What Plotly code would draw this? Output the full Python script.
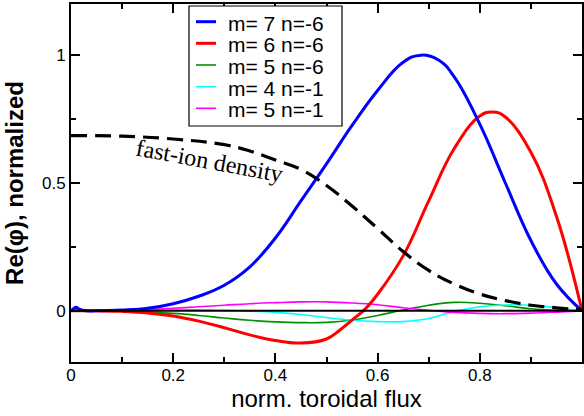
import plotly.graph_objects as go

# ---------------- data ----------------
blue_x = [0, 0.005, 0.01, 0.015, 0.025, 0.05, 0.1, 0.15, 0.2, 0.25, 0.3, 0.35, 0.4, 0.45,
          0.5, 0.55, 0.6, 0.65, 0.685, 0.72, 0.75, 0.8, 0.85, 0.9, 0.95, 1.0]
blue_y = [0, 0.008, 0.014, 0.008, 0.001, 0.0, 0.003, 0.01, 0.028, 0.057, 0.1, 0.172, 0.285, 0.43,
          0.575, 0.725, 0.862, 0.972, 1.0, 0.98, 0.915, 0.73, 0.5, 0.275, 0.105, 0.0]

red_x = [0, 0.05, 0.1, 0.15, 0.2, 0.25, 0.3, 0.35, 0.4, 0.45, 0.5, 0.525, 0.55, 0.575, 0.6,
         0.65, 0.7, 0.75, 0.8, 0.825, 0.85, 0.9, 0.95, 1.0]
red_y = [0, 0, -0.002, -0.008, -0.02, -0.04, -0.066, -0.094, -0.116, -0.126, -0.11, -0.077,
         -0.036, 0.006, 0.065, 0.215, 0.43, 0.635, 0.762, 0.778, 0.758, 0.62, 0.37, 0.0]

small_x = [0, 0.05, 0.1, 0.15, 0.2, 0.25, 0.3, 0.35, 0.4, 0.45, 0.5, 0.55, 0.6, 0.65, 0.7,
           0.75, 0.8, 0.85, 0.9, 0.95, 1.0]
green_y = [0, 0, -0.002, -0.005, -0.01, -0.018, -0.028, -0.037, -0.043, -0.046, -0.045, -0.036,
           -0.018, 0.003, 0.022, 0.033, 0.03, 0.02, 0.008, 0.002, 0]
cyan_y = [0, 0.001, 0.002, 0.003, 0.004, 0.004, 0.002, -0.001, -0.006, -0.014, -0.026, -0.037,
          -0.042, -0.042, -0.03, -0.002, 0.016, 0.023, 0.022, 0.012, 0]
magenta_y = [0, 0.001, 0.003, 0.006, 0.01, 0.016, 0.022, 0.028, 0.032, 0.035, 0.035, 0.031,
             0.024, 0.012, 0.002, -0.006, -0.01, -0.011, -0.009, -0.005, 0]

density_x = [0, 0.1, 0.2, 0.3, 0.35, 0.4, 0.45, 0.5, 0.55, 0.6, 0.65, 0.7, 0.75, 0.8, 0.85,
             0.9, 0.95, 1.0]
density_y = [0.685, 0.683, 0.672, 0.65, 0.625, 0.59, 0.553, 0.49, 0.41, 0.322, 0.232, 0.158,
             0.105, 0.066, 0.04, 0.022, 0.012, 0.004]

zero_x = [0, 1]
zero_y = [0, 0]

series_names = ["m= 7 n=-6", "m= 6 n=-6", "m= 5 n=-6", "m= 4 n=-1", "m= 5 n=-1"]
series_colors = ["#0000ff", "#ff0000", "#009000", "#00ffff", "#ff00ff"]
series_widths = [3, 3, 1.6, 1.6, 1.6]
series_x = [blue_x, red_x, small_x, small_x, small_x]
series_y = [blue_y, red_y, green_y, cyan_y, magenta_y]

x_ticks = [0, 0.2, 0.4, 0.6, 0.8, 1.0]
x_ticklabels = ["0", "0.2", "0.4", "0.6", "0.8", "1"]
y_ticks = [0, 0.5, 1.0]
y_ticklabels = ["0", "0.5", "1"]

# ---------------- layout geometry (pixels) ----------------
W, H = 584, 416
L, R, T, B = 71, 582, 4, 362


def px(xp):
    return (xp - L) / (R - L)


def py(yp):
    return (B - yp) / (B - T)


fig = go.Figure()

draw_order = [2, 3, 4, 1, 0]
for i in draw_order:
    fig.add_trace(go.Scatter(x=series_x[i], y=series_y[i], mode="lines", name=series_names[i],
                             line=dict(color=series_colors[i], width=series_widths[i],
                                       shape="spline", smoothing=1.2),
                             showlegend=False, hoverinfo="skip"))

fig.add_trace(go.Scatter(x=density_x, y=density_y, mode="lines",
                         line=dict(color="black", width=3.2, dash="16px,8px", shape="spline",
                                   smoothing=1.2),
                         showlegend=False, hoverinfo="skip"))
fig.add_trace(go.Scatter(x=zero_x, y=zero_y, mode="lines",
                         line=dict(color="black", width=2), showlegend=False, hoverinfo="skip"))

shapes = []
annotations = []

# manual legend box
shapes.append(dict(type="rect", xref="paper", yref="paper", x0=px(189), x1=px(342),
                   y0=py(126), y1=py(6), line=dict(color="black", width=1.2),
                   fillcolor="white", layer="above"))
row_y = [21.7, 43.3, 65, 86.7, 108.3]
for name, col, wdt, ry in zip(series_names, series_colors, series_widths, row_y):
    shapes.append(dict(type="line", xref="paper", yref="paper", x0=px(196), x1=px(216),
                       y0=py(ry), y1=py(ry), line=dict(color=col, width=wdt), layer="above"))
    annotations.append(dict(text=name, xref="paper", yref="paper", x=px(226), y=py(ry + 1),
                            xanchor="left", yanchor="middle", showarrow=False, height=20,
                            font=dict(size=21, color="black", family="Liberation Sans, Arial")))

annotations.append(dict(text="fast-ion density", x=0.272, y=0.585, xref="x", yref="y",
                        showarrow=False, textangle=10.5,
                        font=dict(size=24, color="black", family="Liberation Serif, Times New Roman")))

fig.update_layout(
    width=W, height=H,
    margin=dict(l=L, r=W - R, t=T, b=H - B, autoexpand=False),
    paper_bgcolor="white", plot_bgcolor="white",
    font=dict(family="Liberation Sans, Arial", color="black"),
    shapes=shapes, annotations=annotations,
    showlegend=False,
)

fig.update_xaxes(
    range=[0, 1], tickvals=x_ticks, ticktext=x_ticklabels,
    showgrid=False, zeroline=False,
    showline=True, linecolor="black", linewidth=2, mirror="ticks",
    ticks="inside", ticklen=9, tickwidth=1.5, tickcolor="black",
    tickfont=dict(size=17), ticklabelstandoff=-3,
    minor=dict(dtick=0.1, tick0=0, ticks="inside", ticklen=5, tickwidth=1.5, tickcolor="black"),
    title=dict(text="norm. toroidal flux", font=dict(size=24), standoff=4),
)
fig.update_yaxes(
    range=[-0.2, 1.2], tickvals=y_ticks, ticktext=y_ticklabels,
    showgrid=False, zeroline=False,
    showline=True, linecolor="black", linewidth=2, mirror="ticks",
    ticks="inside", ticklen=9, tickwidth=1.5, tickcolor="black",
    tickfont=dict(size=17),
    minor=dict(dtick=0.25, tick0=0, ticks="inside", ticklen=5, tickwidth=1.5, tickcolor="black"),
    title=dict(text="<b>Re(φ), normalized</b>", font=dict(size=24), standoff=12),
)

fig.write_html("out.html")
